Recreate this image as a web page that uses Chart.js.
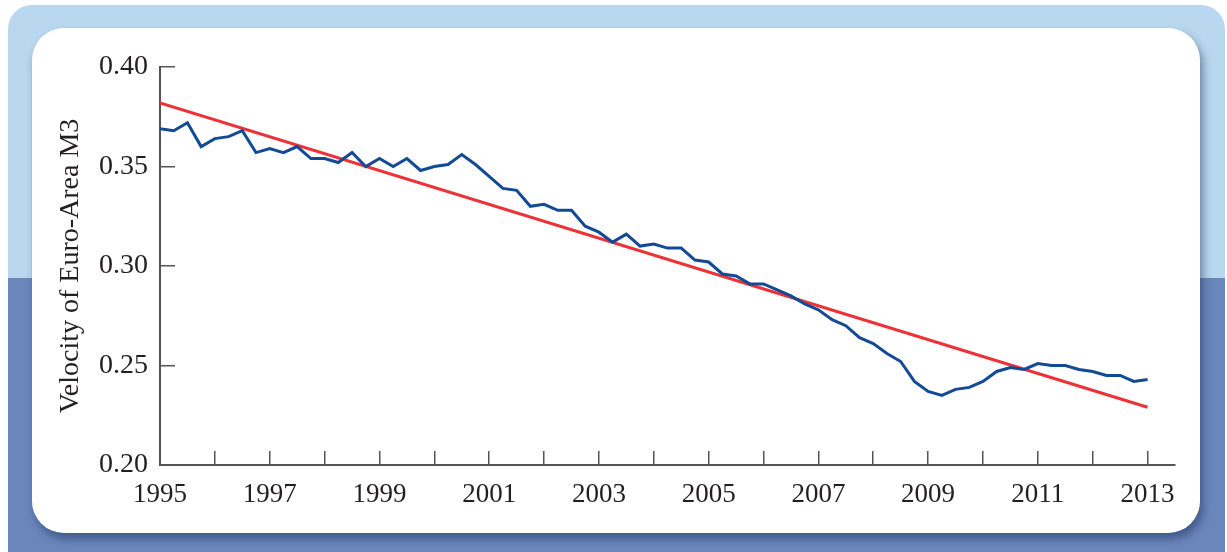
<!DOCTYPE html>
<html>
<head>
<meta charset="utf-8">
<script src="https://cdn.jsdelivr.net/npm/chart.js@4"></script>
<style>
  body { margin: 0; background: #fff; }
  #stage { position: relative; width: 1227px; height: 552px; overflow: hidden; }
  .frame {
    position: absolute; left: 8px; top: 5px; width: 1217px; height: 580px;
    border-radius: 24px;
    background: linear-gradient(to bottom, #b9d7ee 0, #b9d7ee 273px, #6a86bb 273px, #6a86bb 100%);
  }
  .panel {
    position: absolute; left: 32px; top: 28px; width: 1168px; height: 505px;
    border-radius: 32px; background: #fff;
    box-shadow: 3px 6px 9px rgba(25, 45, 90, 0.5);
  }
  #myChart { position: absolute; left: 0; top: 0; }
</style>
</head>
<body>
<div id="stage">
  <div class="frame"></div>
  <div class="panel"></div>
  <canvas id="myChart" width="1227" height="552"></canvas>
</div>
<script>
// Velocity of euro-area M3, quarterly, 1995Q1 - 2013Q1
const firstYear = 1995;
const velocity = [
  0.369, 0.368, 0.372, 0.360, 0.364, 0.365, 0.368, 0.357,
  0.359, 0.357, 0.360, 0.354, 0.354, 0.352, 0.357, 0.350,
  0.354, 0.350, 0.354, 0.348, 0.350, 0.351, 0.356, 0.351,
  0.345, 0.339, 0.338, 0.330, 0.331, 0.328, 0.328, 0.320,
  0.317, 0.312, 0.316, 0.310, 0.311, 0.309, 0.309, 0.303,
  0.302, 0.296, 0.295, 0.291, 0.291, 0.288, 0.285, 0.281,
  0.278, 0.273, 0.270, 0.264, 0.261, 0.256, 0.252, 0.242,
  0.237, 0.235, 0.238, 0.239, 0.242, 0.247, 0.249, 0.248,
  0.251, 0.250, 0.250, 0.248, 0.247, 0.245, 0.245, 0.242,
  0.243
];

// linear trend, end points
const trendYears = [1995, 2013];
const trendValues = [0.382, 0.229];

const yearLabels = ['1995', '1997', '1999', '2001', '2003', '2005', '2007', '2009', '2011', '2013'];
const valueLabels = ['0.20', '0.25', '0.30', '0.35', '0.40'];

const inkColor = '#231f20';
const axisColor = '#555555';
const serif = 'Liberation Serif';

const velocityPoints = velocity.map((v, i) => ({ x: firstYear + i / 4, y: v }));
const trendPoints = trendYears.map((yr, i) => ({ x: yr, y: trendValues[i] }));

new Chart(document.getElementById('myChart'), {
  type: 'line',
  data: {
    datasets: [
      {
        data: velocityPoints,
        borderColor: '#124a96',
        borderWidth: 3,
        pointRadius: 0,
        tension: 0
      },
      {
        data: trendPoints,
        borderColor: '#ee3136',
        borderWidth: 3,
        pointRadius: 0,
        tension: 0
      }
    ]
  },
  options: {
    responsive: false,
    animation: false,
    layout: { padding: { left: 0, top: 67, right: 52, bottom: 27 } },
    plugins: {
      legend: { display: false },
      tooltip: { enabled: false }
    },
    scales: {
      x: {
        type: 'linear',
        min: 1995,
        max: 2013.5,
        border: { color: axisColor, width: 2 },
        grid: { drawOnChartArea: false, tickLength: -14, color: axisColor, lineWidth: 1.5 },
        ticks: {
          stepSize: 1,
          includeBounds: false,
          autoSkip: false,
          maxRotation: 0,
          padding: 28,
          color: inkColor,
          font: { family: serif, size: 27 },
          callback: value => yearLabels.includes(String(value)) ? String(value) : ''
        },
        afterFit: scale => { scale.height = 60; }
      },
      y: {
        min: 0.2,
        max: 0.4,
        border: { color: axisColor, width: 2 },
        grid: { drawOnChartArea: false, tickLength: -15, color: axisColor, lineWidth: 1.5 },
        ticks: {
          stepSize: 0.05,
          padding: 27,
          color: inkColor,
          font: { family: serif, size: 28 },
          callback: value => valueLabels.find(l => Math.abs(parseFloat(l) - value) < 1e-6) || ''
        },
        title: {
          display: true,
          text: 'Velocity of Euro-Area M3',
          color: inkColor,
          font: { family: serif, size: 28 },
          padding: { top: 54, bottom: 0 }
        },
        afterFit: scale => { scale.width = 160; }
      }
    }
  }
});
</script>
</body>
</html>
